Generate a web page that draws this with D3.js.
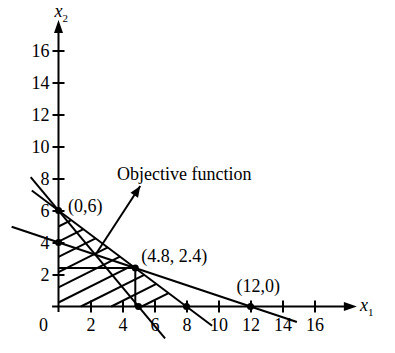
<!DOCTYPE html>
<html>
<head>
<meta charset="utf-8">
<script src="https://d3js.org/d3.v7.min.js"></script>
<style>
  body { margin: 0; background: #fff; }
  text { font-family: "Liberation Serif", "Times New Roman", serif; font-size: 18px; fill: #000; }
</style>
</head>
<body>
<div id="chart"></div>
<script>
// Data
const xTicks = [2, 4, 6, 8, 10, 12, 14, 16];
const yTicks = [2, 4, 6, 8, 10, 12, 14, 16];

// constraint lines, endpoints
const constraintLines = [
  [[-1.67, 7.25], [9.6, -1.2]],   // 3x1 + 4x2 = 24
  [[-2.93, 4.98], [14.9, -0.97]], // x1 + 3x2 = 12
  [[-1.74, 8.09], [6.66, -1.99]]  // 6x1 + 5x2 = 30
];
const guideLines = [
  [[0, 2.4], [4.8, 2.4]],
  [[4.8, 2.4], [4.8, 0]]
];
const cornerPoints = [[0, 6], [0, 4], [4.8, 2.4], [5, 0], [8, 0], [12, 0]];
const pointLabels = [
  { p: [0, 6], text: "(0,6)" },
  { p: [4.8, 2.4], text: "(4.8, 2.4)" },
  { p: [12, 0], text: "(12,0)" }
];
// hatch lines x2 = 0.5 x1 + c inside triangle (0,0),(0,6),(8,0)
const hatchSlope = 0.5;
const hatchIntercepts = [5.0, 4.05, 3.1, 2.15, 1.2, 0.25, -0.7, -1.65, -2.6];
const objective = [[2.31, 3.23], [5.11, 7.53]];

const width = 395, height = 353;
const svg = d3.select("#chart").append("svg")
  .attr("width", width)
  .attr("height", height);

// Scales
const x = d3.scaleLinear().domain([0, 16]).range([58.5, 314.5]);
const y = d3.scaleLinear().domain([0, 16]).range([306.5, 50.5]);

const line = d3.line().x(d => x(d[0])).y(d => y(d[1]));

// Hatching, clipped to 3x1 + 4x2 <= 24
const hatchSegments = hatchIntercepts.map(c => {
  const start = c >= 0 ? [0, c] : [-c / hatchSlope, 0];
  const xe = (24 - 4 * c) / (3 + 4 * hatchSlope);
  return [start, [xe, hatchSlope * xe + c]];
});
svg.selectAll(".hatch")
  .data(hatchSegments)
  .enter()
  .append("path")
  .attr("class", "hatch")
  .attr("d", line)
  .attr("stroke", "#000")
  .attr("stroke-width", 2)
  .attr("fill", "none");

// Constraint lines
svg.selectAll(".cline")
  .data(constraintLines.concat(guideLines))
  .enter()
  .append("path")
  .attr("class", "cline")
  .attr("d", line)
  .attr("stroke", "#000")
  .attr("stroke-width", 2)
  .attr("fill", "none");

// Axes
const xAxis = svg.append("g")
  .attr("transform", `translate(0,${y(0)})`)
  .call(d3.axisBottom(x).tickValues(xTicks).tickSize(6).tickPadding(6));
xAxis.select(".domain").remove();
xAxis.selectAll(".tick line").attr("y1", -6).attr("stroke-width", 2);
xAxis.selectAll(".tick text").style("font-size", "18px").style("font-family", "Liberation Serif");

const yAxis = svg.append("g")
  .attr("transform", `translate(${x(0)},0)`)
  .call(d3.axisLeft(y).tickValues(yTicks).tickSize(6).tickPadding(3));
yAxis.select(".domain").remove();
yAxis.selectAll(".tick line").attr("x1", 6).attr("stroke-width", 2);
yAxis.selectAll(".tick text").attr("dy", "0.36em").style("font-size", "18px").style("font-family", "Liberation Serif");

// Axis lines with arrowheads
svg.append("path")
  .attr("d", line([[-0.4, 0], [18.2, 0]]))
  .attr("stroke", "#000").attr("stroke-width", 2);
svg.append("path")
  .attr("d", line([[0, -0.35], [0, 17.4]]))
  .attr("stroke", "#000").attr("stroke-width", 2);

function arrowHead(tip, angle, len, half) {
  const [tx, ty] = tip;
  const bx = tx - len * Math.cos(angle), by = ty - len * Math.sin(angle);
  const px = -Math.sin(angle) * half, py = Math.cos(angle) * half;
  svg.append("path")
    .attr("d", `M${tx},${ty}L${bx + px},${by + py}L${bx - px},${by - py}Z`)
    .attr("fill", "#000");
}
arrowHead([x(18.65), y(0)], 0, 13, 4.5);
arrowHead([x(0), y(17.9)], -Math.PI / 2, 13, 4.5);

// Origin label
svg.append("text")
  .attr("x", x(0) - 15)
  .attr("y", y(0) + 24.5)
  .attr("text-anchor", "middle")
  .text("0");

// Axis titles
const x2Title = svg.append("text").attr("x", x(0) - 4).attr("y", 17);
x2Title.append("tspan").attr("font-style", "italic").text("x");
x2Title.append("tspan").attr("dy", 5).style("font-size", "11px").text("2");

const x1Title = svg.append("text").attr("x", x(18.65) + 3).attr("y", y(0) + 4);
x1Title.append("tspan").attr("font-style", "italic").text("x");
x1Title.append("tspan").attr("dy", 5).style("font-size", "11px").text("1");

// Objective function arrow
svg.append("path")
  .attr("d", line(objective))
  .attr("stroke", "#000").attr("stroke-width", 2);
const o0 = [x(objective[0][0]), y(objective[0][1])];
const o1 = [x(objective[1][0]), y(objective[1][1])];
arrowHead(o1, Math.atan2(o1[1] - o0[1], o1[0] - o0[0]), 11, 4.5);

svg.append("text")
  .attr("x", 117)
  .attr("y", 180)
  .text("Objective function");

// Corner points
svg.selectAll(".pt")
  .data(cornerPoints)
  .enter()
  .append("circle")
  .attr("class", "pt")
  .attr("cx", d => x(d[0]))
  .attr("cy", d => y(d[1]))
  .attr("r", 3.5)
  .attr("fill", "#000");

// Point labels
const labelOffsets = [[9.5, 1.5], [6, -6.5], [-14, -14.5]];
svg.selectAll(".plabel")
  .data(pointLabels)
  .enter()
  .append("text")
  .attr("class", "plabel")
  .attr("x", (d, i) => x(d.p[0]) + labelOffsets[i][0])
  .attr("y", (d, i) => y(d.p[1]) + labelOffsets[i][1])
  .text(d => d.text);
</script>
</body>
</html>
